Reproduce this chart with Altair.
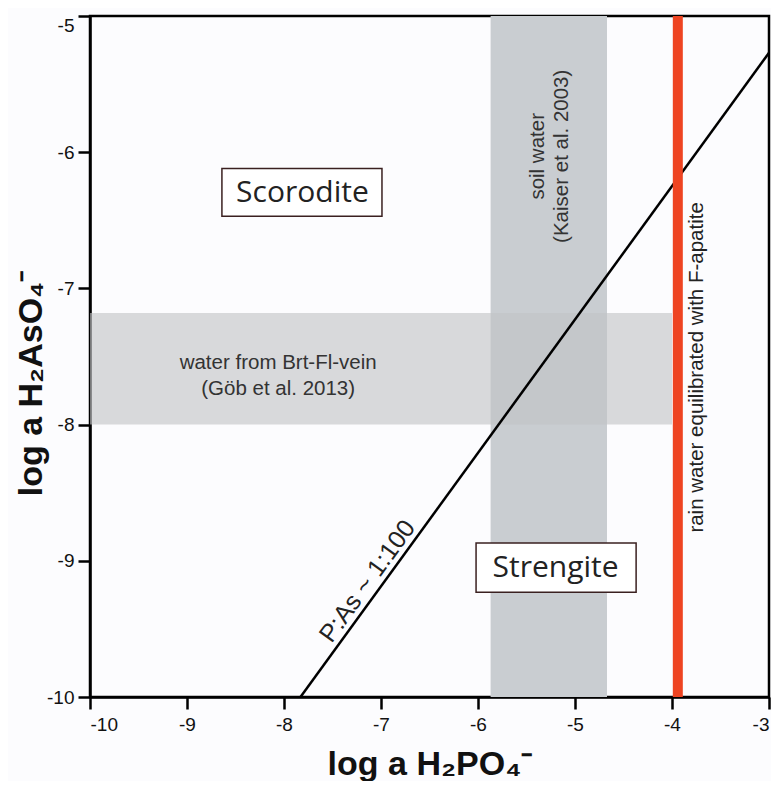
import altair as alt
import pandas as pd

# ---- data ----
x_ticks = [-10, -9, -8, -7, -6, -5, -4, -3]
y_ticks = [-10, -9, -8, -7, -6, -5]

vein_x = [-10.0, -4.0]
vein_y = [-8.0, -7.18]
soil_x = [-5.87, -4.67]
soil_y = [-10.0, -5.0]
rain_x = [-3.94]
ratio_x = [-7.83, -3.0]
ratio_y = [-10.0, -5.27]

box_names = ["Scorodite", "Strengite"]
box_cx = [-7.81, -5.20]
box_cy = [-6.30, -9.05]
box_x1 = [-8.64, -6.02]
box_x2 = [-6.99, -4.37]
box_y1 = [-6.12, -8.87]
box_y2 = [-6.47, -9.23]

note_texts = ["water from Brt-Fl-vein\n(Göb et al. 2013)"]
note_x = [-8.06]
note_y = [-7.55]

soil_text = ["soil water\n(Kaiser et al. 2003)"]
soil_tx = [-5.38]
soil_ty = [-6.03]

rain_text = ["rain water equilibrated with F-apatite"]
rain_tx = [-3.74]
rain_ty = [-7.58]

ratio_text = ["P:As ~ 1:100"]
ratio_tx = [-7.14]
ratio_ty = [-9.15]

# ---- scales ----
xs = alt.Scale(domain=[-10, -3], nice=False, zero=False)
ys = alt.Scale(domain=[-10, -5], nice=False, zero=False)

BG = "#fcfcfe"

x_axis = alt.Axis(values=x_ticks, labelExpr="'' + datum.value", title="log a H₂PO₄⁻",
                  titleFont="Liberation Sans", titleFontSize=34, titleFontWeight="bold",
                  titleColor="#111", titlePadding=13,
                  labelFont="Liberation Sans", labelFontSize=19, labelColor="#111",
                  labelPadding=6, tickSize=12, tickWidth=2.5, tickColor="#000",
                  domainColor="#000", domainWidth=2.5, grid=False)
y_axis = alt.Axis(values=y_ticks, labelExpr="'' + datum.value", title="log a H₂AsO₄⁻",
                  titleFont="Liberation Sans", titleFontSize=34, titleFontWeight="bold",
                  titleColor="#111", titleX=-42, titleY=367, titleBaseline="bottom",
                  titleAngle=270, titleAlign="center",
                  labelBaseline={"condition": {"test": "datum.value == -5", "value": "top"},
                                 "value": "middle"},
                  labelFont="Liberation Sans", labelFontSize=19, labelColor="#111",
                  labelPadding=4, tickSize=12, tickWidth=2.5, tickColor="#000",
                  domainColor="#000", domainWidth=2.5, grid=False)

soil_df = pd.DataFrame({"x": [soil_x[0]], "x2": [soil_x[1]], "y": [soil_y[0]], "y2": [soil_y[1]]})
vein_df = pd.DataFrame({"x": [vein_x[0]], "x2": [vein_x[1]], "y": [vein_y[0]], "y2": [vein_y[1]]})

soil = alt.Chart(soil_df).mark_rect(color="#c9cdd1").encode(
    x=alt.X("x:Q", scale=xs, axis=x_axis), x2="x2", y=alt.Y("y:Q", scale=ys, axis=y_axis), y2="y2")
vein = alt.Chart(vein_df).mark_rect(color="#c2c3c5", opacity=0.62).encode(
    x=alt.X("x:Q", scale=xs), x2="x2", y=alt.Y("y:Q", scale=ys), y2="y2")

note = alt.Chart(pd.DataFrame({"t": note_texts, "x": note_x, "y": note_y})).mark_text(
    font="Liberation Sans", fontSize=20.5, color="#333", lineBreak="\n", lineHeight=26,
    align="center", baseline="middle").encode(
    x=alt.X("x:Q", scale=xs), y=alt.Y("y:Q", scale=ys), text="t:N")

soil_lbl = alt.Chart(pd.DataFrame({"t": soil_text, "x": soil_tx, "y": soil_ty})).mark_text(
    font="Liberation Sans", fontSize=20.5, color="#333", lineBreak="\n", lineHeight=24,
    align="center", baseline="middle", angle=270).encode(
    x=alt.X("x:Q", scale=xs), y=alt.Y("y:Q", scale=ys), text="t:N")

rain_lbl = alt.Chart(pd.DataFrame({"t": rain_text, "x": rain_tx, "y": rain_ty})).mark_text(
    font="Liberation Sans", fontSize=20.5, color="#222",
    align="center", baseline="middle", angle=270).encode(
    x=alt.X("x:Q", scale=xs), y=alt.Y("y:Q", scale=ys), text="t:N")

ratio_line = alt.Chart(pd.DataFrame({"x": ratio_x, "y": ratio_y})).mark_line(
    color="#000", strokeWidth=2.5, clip=True).encode(
    x=alt.X("x:Q", scale=xs), y=alt.Y("y:Q", scale=ys))

ratio_lbl = alt.Chart(pd.DataFrame({"t": ratio_text, "x": ratio_tx, "y": ratio_ty})).mark_text(
    font="Liberation Sans", fontSize=25, color="#222",
    align="center", baseline="middle", angle=306).encode(
    x=alt.X("x:Q", scale=xs), y=alt.Y("y:Q", scale=ys), text="t:N")

rain = alt.Chart(pd.DataFrame({"x": rain_x})).mark_rule(color="#ee4422", strokeWidth=10).encode(
    x=alt.X("x:Q", scale=xs), y=alt.value(0), y2=alt.value(681))

box_df = pd.DataFrame({"name": box_names, "cx": box_cx, "cy": box_cy,
                       "x1": box_x1, "x2": box_x2, "y1": box_y1, "y2": box_y2})
boxes = alt.Chart(box_df).mark_rect(fill="white", stroke="#3a2020", strokeWidth=1.5).encode(
    x=alt.X("x1:Q", scale=xs), x2="x2", y=alt.Y("y1:Q", scale=ys), y2="y2")
box_txt = alt.Chart(box_df).mark_text(font="Open Sans", fontSize=30, color="#222",
                                      align="center", baseline="middle").encode(
    x=alt.X("cx:Q", scale=xs), y=alt.Y("cy:Q", scale=ys), text="name:N")

chart = alt.layer(soil, vein, note, soil_lbl, ratio_line, ratio_lbl, rain, rain_lbl, boxes, box_txt).properties(
    width=679, height=681,
    autosize=alt.AutoSizeParams(type="none"),
    padding={"left": 82, "top": 8, "right": 2, "bottom": 84},
    background=BG,
).configure_view(stroke="#000", strokeWidth=2.5, fill=BG)

chart.save("out.html", embed_options={"renderer": "svg", "actions": False})
